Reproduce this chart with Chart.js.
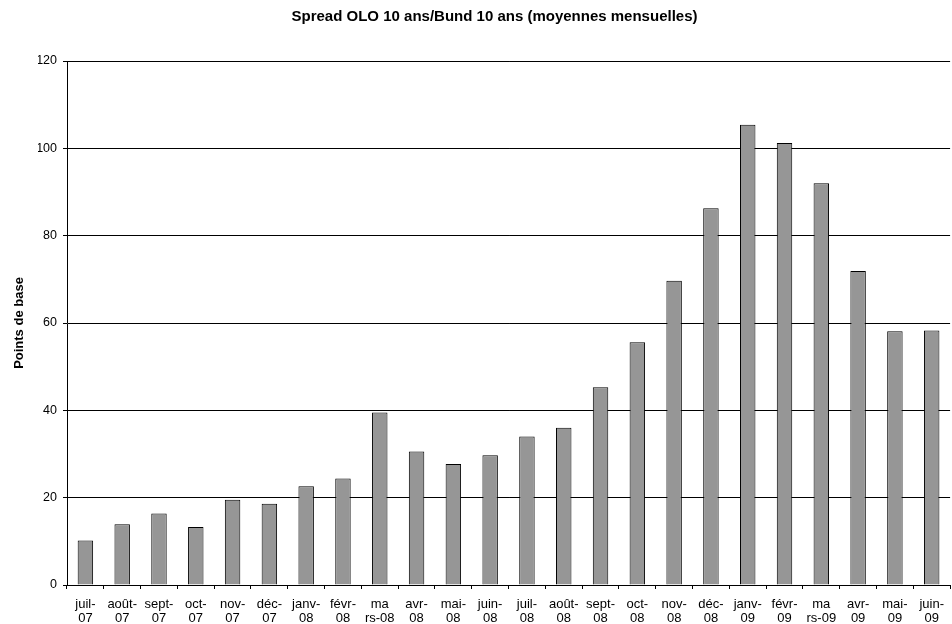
<!doctype html>
<html lang="fr">
<head>
<meta charset="utf-8">
<title>Spread OLO 10 ans/Bund 10 ans</title>
<style>
  html, body { margin: 0; padding: 0; background: #fff; }
  #spread-chart { display: block; }
</style>
</head>
<body>
<canvas id="spread-chart" width="952" height="624"></canvas>

<script src="https://cdn.jsdelivr.net/npm/chart.js@4.4.1/dist/chart.umd.min.js"></script>
<script>
  // mois (libelles sur deux lignes comme dans l'original)
  var months = [
    ["juil-", "07"], ["août-", "07"], ["sept-", "07"], ["oct-", "07"], ["nov-", "07"], ["déc-", "07"],
    ["janv-", "08"], ["févr-", "08"], ["ma", "rs-08"], ["avr-", "08"], ["mai-", "08"], ["juin-", "08"],
    ["juil-", "08"], ["août-", "08"], ["sept-", "08"], ["oct-", "08"], ["nov-", "08"], ["déc-", "08"],
    ["janv-", "09"], ["févr-", "09"], ["ma", "rs-09"], ["avr-", "09"], ["mai-", "09"], ["juin-", "09"]
  ];

  // spread en points de base
  var spread = [
    10.2, 13.9, 16.4, 13.3, 19.5, 18.6,
    22.6, 24.4, 39.5, 30.6, 27.7, 29.7,
    34.0, 36.0, 45.3, 55.6, 69.7, 86.3,
    105.4, 101.2, 92.0, 71.9, 58.1, 58.3
  ];

  var yMin = 0, yMax = 120, yStep = 20;

  Chart.defaults.font.family = "'Liberation Sans', Arial, sans-serif";
  Chart.defaults.color = "#000";

  new Chart("spread-chart", {
    type: "bar",
    data: {
      labels: months,
      datasets: [{
        label: "Spread",
        data: spread,
        backgroundColor: "#969696",
        borderColor: "#000",
        borderWidth: 1,
        barPercentage: 0.42,
        categoryPercentage: 1
      }]
    },
    options: {
      responsive: false,
      animation: false,
      // left padding pushes the title centre to the right like the original
      layout: { padding: { left: 38, right: 1, top: 0, bottom: 0 } },
      plugins: {
        legend: { display: false },
        tooltip: { enabled: false },
        title: {
          display: true,
          text: "Spread OLO 10 ans/Bund 10 ans (moyennes mensuelles)",
          color: "#000",
          font: { weight: "bold", size: 15 },
          padding: { top: 8, bottom: 35 }
        }
      },
      scales: {
        x: {
          offset: true,
          grid: { display: true, drawOnChartArea: false, drawTicks: true, tickLength: 4, color: "#000", offset: true },
          border: { color: "#000" },
          ticks: { autoSkip: false, maxRotation: 0, minRotation: 0, padding: 8, color: "#000", font: { size: 13, lineHeight: 1.1 } },
          afterFit: function(scale) { scale.height = 39; }
        },
        y: {
          min: yMin,
          max: yMax,
          grid: { color: "#000", tickLength: 4 },
          border: { color: "#000" },
          ticks: { stepSize: yStep, padding: 6, color: "#000", font: { size: 12.5 } },
          title: {
            display: true,
            text: "Points de base",
            color: "#000",
            font: { weight: "bold", size: 13 },
            padding: { top: -26, bottom: 0 }
          },
          afterFit: function(scale) { scale.width = 29; }
        }
      }
    }
  });
</script>
</body>
</html>
